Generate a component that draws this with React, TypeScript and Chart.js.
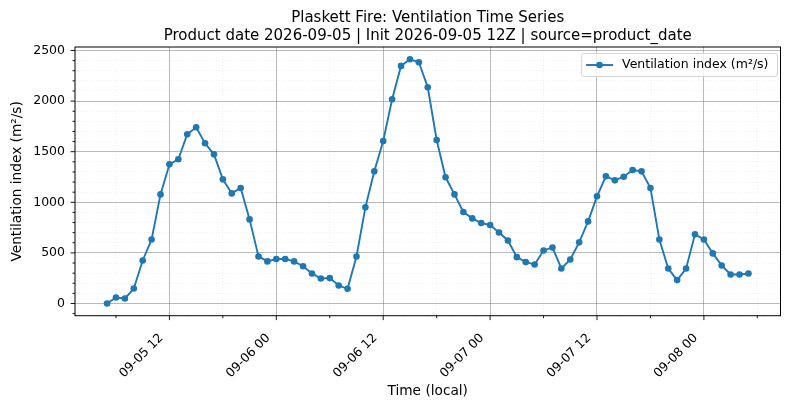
import React, { useEffect, useRef } from 'react';
import { Chart, registerables } from 'chart.js';

Chart.register(...registerables);

const titleLines = [
  'Plaskett Fire: Ventilation Time Series',
  'Product date 2026-09-05 | Init 2026-09-05 12Z | source=product_date',
];
const seriesLabel = 'Ventilation index (m²/s)';
const xTitle = 'Time (local)';
const yTitle = 'Ventilation index (m²/s)';

// hours since 2026-09-05 00:00 local
const hours = [
  5, 6, 7, 8, 9, 10, 11, 12, 13, 14, 15, 16, 17, 18, 19, 20, 21, 22, 23,
  24, 25, 26, 27, 28, 29, 30, 31, 32, 33, 34, 35, 36, 37, 38, 39, 40, 41, 42, 43, 44, 45, 46, 47,
  48, 49, 50, 51, 52, 53, 54, 55, 56, 57, 58, 59, 60, 61, 62, 63, 64, 65, 66, 67, 68, 69, 70, 71,
  72, 73, 74, 75, 76, 77,
];
const values = [
  0, 59, 50, 148, 425, 633, 1078, 1375, 1425, 1672, 1741, 1583, 1474, 1227, 1088, 1141, 831, 465, 416,
  439, 439, 416, 368, 297, 247, 251, 178, 145, 465, 950, 1306, 1606, 2018, 2348, 2414, 2384, 2137, 1616, 1247,
  1078, 904, 841, 795, 775, 702, 623, 458, 409, 386, 524, 554, 346, 435, 604, 811, 1059, 1257, 1217,
  1253, 1319, 1306, 1141, 633, 346, 231, 346, 683, 633, 495, 376, 287, 287, 297,
];

const xMajorTicks = [12, 24, 36, 48, 60, 72];
const xMinorTicks = [6, 18, 30, 42, 54, 66, 78];
const yMajorTicks = [0, 500, 1000, 1500, 2000, 2500];
const yMinorTicks = [
  -100, 100, 200, 300, 400, 600, 700, 800, 900, 1100, 1200, 1300, 1400, 1600, 1700, 1800, 1900,
  2100, 2200, 2300, 2400,
];
const xMin = 1.4;
const xMax = 80.6;
const yMin = -120.7;
const yMax = 2534.7;

const FONT = "'DejaVu Sans', sans-serif";
const BLUE = '#1f77b4';
const MAJOR_GRID = 'rgba(128,128,128,0.62)';
const MINOR_GRID = 'rgba(128,128,128,0.22)';

const fmtHour = (h: number) => {
  const day = 5 + Math.floor(h / 24);
  const hh = h % 24;
  return `09-${String(day).padStart(2, '0')} ${String(hh).padStart(2, '0')}`;
};

const decor = {
  id: 'decor',
  afterDraw(chart: any) {
    const { ctx, chartArea: a, scales } = chart;
    const xs = scales.x;
    const ys = scales.y;
    ctx.save();
    // tick marks
    ctx.strokeStyle = '#000';
    ctx.lineWidth = 0.9;
    ctx.beginPath();
    xMajorTicks.forEach((v) => {
      const px = xs.getPixelForValue(v);
      ctx.moveTo(px, a.bottom);
      ctx.lineTo(px, a.bottom + 4.4);
    });
    xMinorTicks.forEach((v) => {
      const px = xs.getPixelForValue(v);
      ctx.moveTo(px, a.bottom);
      ctx.lineTo(px, a.bottom + 2.5);
    });
    yMajorTicks.forEach((v) => {
      const py = ys.getPixelForValue(v);
      ctx.moveTo(a.left, py);
      ctx.lineTo(a.left - 4.4, py);
    });
    yMinorTicks.forEach((v) => {
      const py = ys.getPixelForValue(v);
      ctx.moveTo(a.left, py);
      ctx.lineTo(a.left - 2.5, py);
    });
    ctx.stroke();
    // spines
    ctx.lineWidth = 1;
    ctx.strokeRect(a.left, a.top, a.right - a.left, a.bottom - a.top);

    // title
    const cx = (a.left + a.right) / 2;
    ctx.fillStyle = '#000';
    ctx.font = `15px ${FONT}`;
    ctx.textAlign = 'center';
    ctx.textBaseline = 'alphabetic';
    ctx.fillText(titleLines[0], cx, 21.5);
    ctx.fillText(titleLines[1], cx, 39.5);

    // legend
    const ds = chart.data.datasets[0];
    ctx.font = `12.5px ${FONT}`;
    const tw = ctx.measureText(ds.label).width;
    const boxRight = a.right - 3;
    const textX = boxRight - 9 - tw;
    const hEnd = textX - 9;
    const hStart = hEnd - 27;
    const boxLeft = hStart - 4.5;
    const boxTop = a.top + 6.5;
    const boxH = 23;
    const midY = boxTop + boxH / 2;
    ctx.beginPath();
    const r = 2.5;
    ctx.moveTo(boxLeft + r, boxTop);
    ctx.arcTo(boxRight, boxTop, boxRight, boxTop + boxH, r);
    ctx.arcTo(boxRight, boxTop + boxH, boxLeft, boxTop + boxH, r);
    ctx.arcTo(boxLeft, boxTop + boxH, boxLeft, boxTop, r);
    ctx.arcTo(boxLeft, boxTop, boxRight, boxTop, r);
    ctx.closePath();
    ctx.fillStyle = 'rgba(255,255,255,0.8)';
    ctx.fill();
    ctx.strokeStyle = '#d0d0d0';
    ctx.lineWidth = 0.9;
    ctx.stroke();
    ctx.strokeStyle = ds.borderColor;
    ctx.lineWidth = 1.9;
    ctx.beginPath();
    ctx.moveTo(hStart, midY);
    ctx.lineTo(hEnd, midY);
    ctx.stroke();
    ctx.fillStyle = ds.borderColor;
    ctx.beginPath();
    ctx.arc((hStart + hEnd) / 2, midY, 3.3, 0, Math.PI * 2);
    ctx.fill();
    ctx.fillStyle = '#000';
    ctx.textAlign = 'left';
    ctx.textBaseline = 'middle';
    ctx.fillText(ds.label, textX, midY);
    ctx.restore();
  },
};

export default function App() {
  const ref = useRef<HTMLCanvasElement | null>(null);
  useEffect(() => {
    if (!ref.current) return;
    const chart = new Chart(ref.current, {
      type: 'line',
      data: {
        datasets: [
          {
            label: seriesLabel,
            data: hours.map((h, i) => ({ x: h, y: values[i] })),
            borderColor: BLUE,
            backgroundColor: BLUE,
            pointBackgroundColor: BLUE,
            pointBorderWidth: 0,
            pointRadius: 3.3,
            borderWidth: 1.9,
            tension: 0,
          },
        ],
      },
      options: {
        animation: false,
        responsive: false,
        layout: { padding: { top: 47, right: 9.5, left: 0, bottom: 0 } },
        plugins: {
          legend: { display: false },
          title: { display: false },
          tooltip: { enabled: false },
        },
        scales: {
          x: {
            type: 'linear',
            min: xMin,
            max: xMax,
            afterBuildTicks: (scale: any) => {
              scale.ticks = [...xMajorTicks, ...xMinorTicks]
                .sort((p, q) => p - q)
                .map((v) => ({ value: v }));
            },
            afterFit: (scale: any) => {
              scale.height = 93.3;
            },
            ticks: {
              autoSkip: false,
              maxRotation: 45,
              minRotation: 45,
              padding: 15,
              labelOffset: -8,
              color: '#000',
              font: { family: FONT, size: 12.5 },
              callback: (v: any) => (Number(v) % 12 === 0 ? fmtHour(Number(v)) : ''),
            },
            grid: {
              drawTicks: false,
              color: (c: any) => (c.tick && c.tick.value % 12 === 0 ? MAJOR_GRID : MINOR_GRID),
              lineWidth: (c: any) => (c.tick && c.tick.value % 12 === 0 ? 0.9 : 0.6),
            },
            border: {
              display: false,
              dash: (c: any) => (c.tick && c.tick.value % 12 === 0 ? [] : [1, 2]),
            },
            title: {
              display: true,
              text: xTitle,
              color: '#000',
              font: { family: FONT, size: 13.7 },
              padding: { top: 0, bottom: 9 },
            },
          },
          y: {
            type: 'linear',
            min: yMin,
            max: yMax,
            afterBuildTicks: (scale: any) => {
              scale.ticks = [...yMajorTicks, ...yMinorTicks]
                .sort((p, q) => p - q)
                .map((v) => ({ value: v }));
            },
            afterFit: (scale: any) => {
              scale.width = 75;
            },
            ticks: {
              autoSkip: false,
              padding: 10,
              color: '#000',
              font: { family: FONT, size: 12.5 },
              callback: (v: any) => (Number(v) % 500 === 0 ? String(v) : ''),
            },
            grid: {
              drawTicks: false,
              color: (c: any) => (c.tick && c.tick.value % 500 === 0 ? MAJOR_GRID : MINOR_GRID),
              lineWidth: (c: any) => (c.tick && c.tick.value % 500 === 0 ? 0.9 : 0.6),
            },
            border: {
              display: false,
              dash: (c: any) => (c.tick && c.tick.value % 500 === 0 ? [] : [1, 2]),
            },
            title: {
              display: true,
              text: yTitle,
              color: '#000',
              font: { family: FONT, size: 13.7 },
              padding: { top: 9, bottom: 0 },
            },
          },
        },
      },
      plugins: [decor],
    } as any);
    return () => chart.destroy();
  }, []);
  return (
    <div style={{ position: 'fixed', left: 0, top: 0, width: 790, height: 409, background: '#fff' }}>
      <canvas ref={ref} width={790} height={409} />
    </div>
  );
}
